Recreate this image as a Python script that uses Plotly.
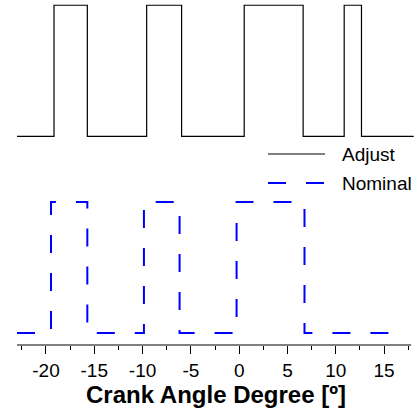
import plotly.graph_objects as go

# Data (crank angle degree, step levels)
adjust_x = [-23, -19.17, -15.72, -9.58, -5.96, 0.52, 6.62, 10.87, 12.66, 18.07]
adjust_state = [0, 1, 0, 1, 0, 1, 0, 1, 0, 0]
adjust_offset = 1.5

nominal_x = [-23, -19.48, -15.72, -9.86, -6.17, -0.27, 6.76, 16.56]
nominal_state = [0, 1, 0, 1, 0, 1, 0, 0]
nominal_offset = 0.0

tick_vals = [-20, -15, -10, -5, 0, 5, 10, 15]
tick_text = ["-20", "-15", "-10", "-5", "0", "5", "10", "15"]

FONT = "Liberation Sans, Arial, sans-serif"

fig = go.Figure()
fig.add_trace(go.Scatter(
    x=adjust_x, y=[s + adjust_offset for s in adjust_state],
    mode="lines", line=dict(color="black", width=1.2, shape="hv"),
    name="Adjust", showlegend=False))
fig.add_trace(go.Scatter(
    x=nominal_x, y=[s + nominal_offset for s in nominal_state],
    mode="lines", line=dict(color="blue", width=2, shape="hv", dash="18px,20px"),
    name="Nominal", showlegend=False))

# axis line
fig.add_shape(type="line", xref="x", yref="paper", x0=-23, x1=17.8, y0=0, y1=0,
              line=dict(color="black", width=1))

# custom legend
L = 17; W = 398; H = 345
def px_x(p): return (p - L) / W
def px_y(p): return (H - p) / H
fig.add_shape(type="line", xref="paper", yref="paper", x0=px_x(268), x1=px_x(325),
              y0=px_y(154), y1=px_y(154), line=dict(color="black", width=1))
fig.add_shape(type="line", xref="paper", yref="paper", x0=px_x(268), x1=px_x(325),
              y0=px_y(183), y1=px_y(183), line=dict(color="blue", width=2, dash="18px,20px"))
fig.add_annotation(text="Adjust", xref="paper", yref="paper", x=px_x(340), y=px_y(154),
                   xanchor="left", yanchor="middle", showarrow=False,
                   font=dict(family=FONT, size=19, color="black"))
fig.add_annotation(text="Nominal", xref="paper", yref="paper", x=px_x(340), y=px_y(183),
                   xanchor="left", yanchor="middle", showarrow=False,
                   font=dict(family=FONT, size=19, color="black"))

fig.update_layout(
    width=418, height=416,
    margin=dict(l=17, r=3, t=0, b=71),
    paper_bgcolor="white", plot_bgcolor="white",
    showlegend=False,
    font=dict(family=FONT, color="black"),
)
fig.update_xaxes(
    range=[-23, 18.2], showgrid=False, zeroline=False, showline=False,
    tickmode="array", tickvals=tick_vals, ticktext=tick_text,
    ticks="outside", ticklen=8, tickwidth=1, tickcolor="black",
    tickfont=dict(family=FONT, size=19, color="black"),
    minor=dict(tickmode="linear", tick0=0, dtick=2.5, ticks="outside",
               ticklen=4, tickwidth=1, tickcolor="black", showgrid=False),
    title=dict(text="<b>Crank Angle Degree [º]</b>", standoff=4,
               font=dict(family=FONT, size=24, color="black")),
)
fig.update_yaxes(visible=False, range=[-0.0916, 2.54])

fig.write_html("out.html")
